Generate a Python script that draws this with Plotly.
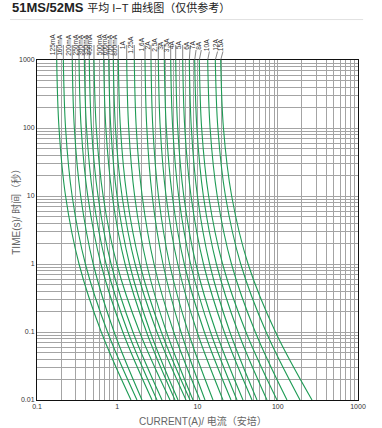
import numpy as np
import plotly.graph_objects as go

# Fuse ratings (labels at the top of each curve)
ratings = ["125mA", "160mA", "200mA", "250mA", "300mA", "350mA", "400mA", "500mA",
           "600mA", "700mA", "800mA", "1A", "1.25A", "1.6A", "2A", "2.5A", "3A",
           "3.5A", "4A", "5A", "6A", "7A", "8A", "10A", "12A", "15A"]

# Time points (s) at which each curve's current was read
times = [1000, 100, 10, 1, 0.1, 0.01]

# Current (A) of each curve at the given time
I_1000s = [0.176, 0.213, 0.275, 0.334, 0.389, 0.448, 0.513, 0.678, 0.783, 0.893, 1.031, 1.311, 1.631,
           2.217, 2.634, 3.248, 3.858, 4.634, 5.350, 6.540, 7.903, 9.229, 10.53, 13.40, 16.67, 19.46]
I_100s = [0.188, 0.227, 0.292, 0.355, 0.414, 0.477, 0.548, 0.721, 0.831, 0.950, 1.096, 1.389, 1.726,
          2.335, 2.778, 3.434, 4.086, 4.908, 5.668, 6.942, 8.379, 9.822, 11.26, 14.35, 17.93, 21.05]
I_10s = [0.227, 0.274, 0.350, 0.429, 0.499, 0.576, 0.667, 0.867, 0.993, 1.147, 1.319, 1.648, 2.045,
         2.726, 3.262, 4.058, 4.853, 5.823, 6.745, 8.303, 9.977, 11.84, 13.76, 17.61, 22.30, 26.65]
I_1s = [0.334, 0.401, 0.502, 0.626, 0.726, 0.838, 0.987, 1.252, 1.421, 1.669, 1.910, 2.321, 2.872,
        3.717, 4.491, 5.667, 6.848, 8.201, 9.550, 11.88, 14.16, 17.20, 20.55, 26.52, 34.55, 42.70]
I_0p1s = [0.632, 0.757, 0.914, 1.173, 1.358, 1.568, 1.899, 2.313, 2.580, 3.122, 3.541, 4.107, 5.054,
          6.229, 7.656, 9.892, 12.16, 14.51, 17.04, 21.57, 25.35, 32.04, 40.13, 52.48, 71.63, 93.69]
I_0p01s = [1.483, 1.762, 2.034, 2.710, 3.128, 3.611, 4.543, 5.243, 5.715, 7.191, 8.063, 8.788, 10.74,
           12.40, 15.60, 20.78, 26.15, 31.06, 36.90, 47.77, 55.14, 73.45, 97.88, 130.4, 189.4, 267.2]

x_tick_vals = [0.1, 1, 10, 100, 1000]
x_tick_text = ["0.1", "1", "10", "100", "1000"]
y_tick_vals = [0.01, 0.1, 1, 10, 100, 1000]
y_tick_text = ["0.01", "0.1", "1", "10", "100", "1000"]

# style: horizontal shift (px) of each label relative to its curve top
label_dx = [0] * 20 + [1, 2, 3, 3, 4, 4]

FONT = "Liberation Sans, Arial, Noto Sans CJK SC"
GREEN = "#1e9b55"
GRID = "#a4a4a4"

fig = go.Figure()
columns = [I_1000s, I_100s, I_10s, I_1s, I_0p1s, I_0p01s]
for k, name in enumerate(ratings):
    xs = [col[k] for col in columns]
    fig.add_trace(go.Scatter(x=xs, y=times, mode="lines", name=name,
                             line=dict(color=GREEN, width=1.1, shape="spline", smoothing=1.0),
                             hoverinfo="name"))

annotations = []
for k, name in enumerate(ratings):
    annotations.append(dict(
        x=np.log10(I_1000s[k]), y=np.log10(times[0]), xref="x", yref="y",
        text=name, textangle=-90, showarrow=True, arrowhead=0, arrowwidth=0.7,
        arrowcolor="#555", ax=label_dx[k], ay=-15, xanchor="center", yanchor="bottom",
        font=dict(family=FONT, size=6.6, color="#333"), borderpad=0))

annotations.append(dict(
    xref="paper", yref="paper", x=-0.083, y=1.153, xanchor="left", yanchor="middle",
    showarrow=False,
    text="<b>51MS/52MS</b> <span style='font-size:11px'>平均 I−T 曲线图（仅供参考）</span>",
    font=dict(family=FONT, size=13, color="#222")))
annotations.append(dict(
    xref="paper", yref="paper", x=0.517, y=-0.062, xanchor="center", yanchor="middle",
    showarrow=False, text="CURRENT(A)/ 电流（安培）",
    font=dict(family=FONT, size=10, color="#666")))
annotations.append(dict(
    xref="paper", yref="paper", x=-0.066, y=0.562, xanchor="center", yanchor="middle",
    showarrow=False, text="TIME(s)/ 时间（秒）", textangle=-90,
    font=dict(family=FONT, size=10, color="#666")))

x_minor = [d * 10.0 ** e for e in range(-1, 3) for d in range(2, 10)]
y_minor = [d * 10.0 ** e for e in range(-2, 3) for d in range(2, 10)]

fig.update_xaxes(type="log", range=[-1, 3], tickmode="array", tickvals=x_tick_vals,
                 ticktext=x_tick_text, showgrid=True, gridcolor=GRID, gridwidth=1,
                 minor=dict(tickmode="array", tickvals=x_minor, showgrid=True, gridcolor=GRID, gridwidth=1),
                 showline=True, linecolor="#111", linewidth=1, mirror=True, ticks="",
                 tickfont=dict(family=FONT, size=7, color="#333"), zeroline=False)
fig.update_yaxes(type="log", range=[-2, 3], tickmode="array", tickvals=y_tick_vals,
                 ticktext=y_tick_text, showgrid=True, gridcolor=GRID, gridwidth=1,
                 minor=dict(tickmode="array", tickvals=y_minor, showgrid=True, gridcolor=GRID, gridwidth=1),
                 showline=True, linecolor="#111", linewidth=1, mirror=True, ticks="",
                 tickfont=dict(family=FONT, size=7, color="#333"), zeroline=False)

fig.update_layout(
    width=382, height=428, margin=dict(l=37, r=24, t=60, b=28),
    paper_bgcolor="white", plot_bgcolor="white", showlegend=False,
    annotations=annotations,
    shapes=[dict(type="line", xref="paper", yref="paper", x0=-0.084, x1=1.016,
                 y0=1.119, y1=1.119, line=dict(color="#e2e2e2", width=1))],
)

# remove the default 8px page margin so the figure sits at the window's corner
fig.write_html("out.html", config={"displayModeBar": False},
               post_script="document.body.style.margin='0';")
